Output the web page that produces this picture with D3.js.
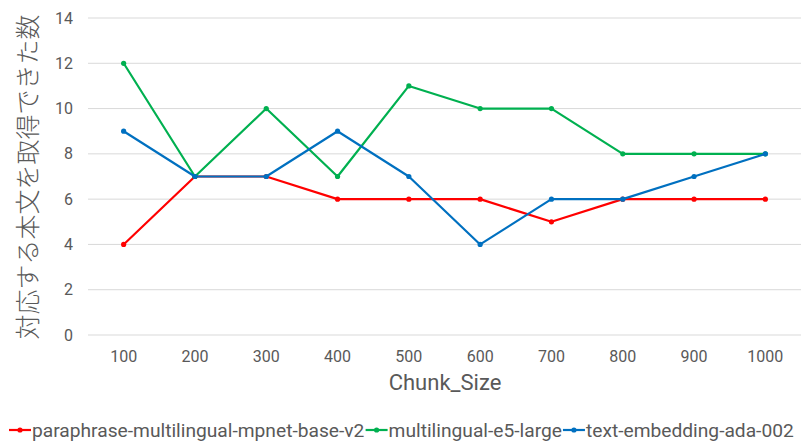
<!DOCTYPE html>
<html>
<head>
<meta charset="utf-8">
<script src="https://cdn.jsdelivr.net/npm/d3@7"></script>
<style>
  body { margin: 0; background: #fff; }
  svg text { font-family: "Roboto", "Noto Sans CJK JP", sans-serif; fill: #595959; }
</style>
</head>
<body>
<div id="chart"></div>
<script>
const chunkSizes = ["100", "200", "300", "400", "500", "600", "700", "800", "900", "1000"];
const paraphraseVals = [4, 7, 7, 6, 6, 6, 5, 6, 6, 6];
const e5Vals = [12, 7, 10, 7, 11, 10, 10, 8, 8, 8];
const adaVals = [9, 7, 7, 9, 7, 4, 6, 6, 7, 8];
const yTicks = [0, 2, 4, 6, 8, 10, 12, 14];

const seriesNames = ["paraphrase-multilingual-mpnet-base-v2", "multilingual-e5-large", "text-embedding-ada-002"];
const seriesColors = ["#FF0000", "#00B050", "#0070C0"];

const series = [paraphraseVals, e5Vals, adaVals].map((vals, i) => ({
    name: seriesNames[i],
    color: seriesColors[i],
    values: vals.map((v, j) => ({x: chunkSizes[j], y: v}))
}));

const width = 803, height = 443;
const svg = d3.select("#chart").append("svg")
    .attr("width", width)
    .attr("height", height);

const x = d3.scaleBand().domain(chunkSizes).range([88, 801]);
const y = d3.scaleLinear().domain([0, 14]).range([335, 18]);

// gridlines
svg.append("g").selectAll("line").data(yTicks).join("line")
    .attr("x1", 88).attr("x2", 801)
    .attr("y1", d => y(d)).attr("y2", d => y(d))
    .attr("stroke", "#D9D9D9")
    .attr("stroke-width", 1);

// y tick labels
svg.append("g").selectAll("text").data(yTicks).join("text")
    .attr("x", 73)
    .attr("y", d => y(d))
    .attr("dy", "0.35em")
    .attr("text-anchor", "end")
    .style("font-size", "16px")
    .text(d => d);

// x tick labels
svg.append("g").selectAll("text").data(chunkSizes).join("text")
    .attr("x", d => x(d) + x.bandwidth() / 2)
    .attr("y", 356)
    .attr("dy", "0.35em")
    .attr("text-anchor", "middle")
    .style("font-size", "16px")
    .text(d => d);

// axis titles
svg.append("text")
    .attr("x", 445).attr("y", 382)
    .attr("dy", "0.35em")
    .attr("text-anchor", "middle")
    .style("font-size", "22px")
    .text("Chunk_Size");

svg.append("text")
    .attr("transform", "translate(28, 177) rotate(-90)")
    .attr("dy", "0.35em")
    .attr("text-anchor", "middle")
    .style("font-size", "25px")
    .style("font-weight", "300")
    .style("font-family", "'Noto Sans CJK JP', sans-serif")
    .text("対応する本文を取得できた数");

const line = d3.line()
    .x(d => x(d.x) + x.bandwidth() / 2)
    .y(d => y(d.y));

const g = svg.append("g").selectAll("g").data(series).join("g");

g.append("path")
    .attr("d", d => line(d.values))
    .attr("fill", "none")
    .attr("stroke", d => d.color)
    .attr("stroke-width", 2.2)
    .attr("stroke-linejoin", "round");

g.selectAll("circle").data(d => d.values.map(v => ({...v, color: d.color}))).join("circle")
    .attr("cx", d => x(d.x) + x.bandwidth() / 2)
    .attr("cy", d => y(d.y))
    .attr("r", 2.6)
    .attr("fill", d => d.color);

// legend
const legend = svg.append("g").attr("class", "legend");
const items = legend.selectAll("g").data(series).join("g");
items.append("line")
    .attr("x1", 0).attr("x2", 22).attr("y1", 0).attr("y2", 0)
    .attr("stroke", d => d.color).attr("stroke-width", 2.2);
items.append("circle").attr("cx", 11).attr("cy", 0).attr("r", 2.6).attr("fill", d => d.color);
items.append("text")
    .attr("x", 23).attr("dy", "0.35em")
    .style("font-size", "19.2px")
    .text(d => d.name);

let offset = 0;
items.each(function () {
    const w = this.getBBox().width;
    d3.select(this).attr("transform", `translate(${offset}, 0)`);
    offset += w + 1;
});
const total = offset - 1;
legend.attr("transform", `translate(${(width - total) / 2}, 430)`);
</script>
</body>
</html>
